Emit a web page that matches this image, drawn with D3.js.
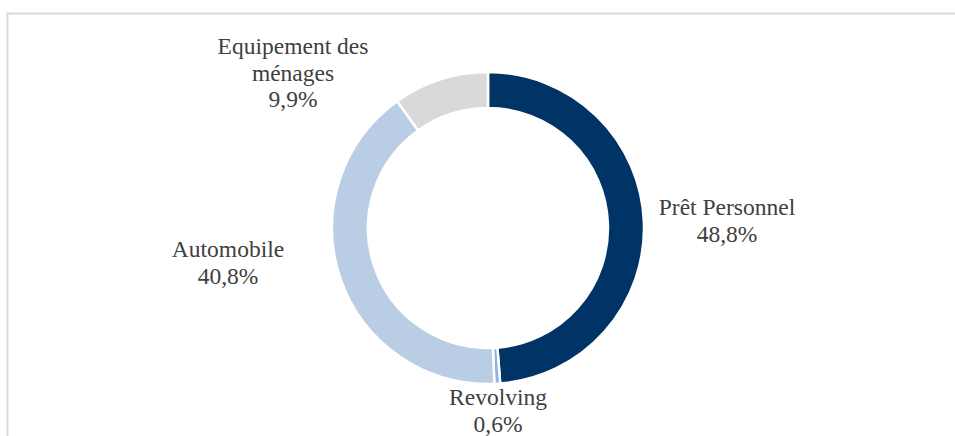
<!DOCTYPE html>
<meta charset='utf-8'>
<style>
  body { margin: 0; background: #fff; }
  svg text { font-family: 'Liberation Serif', 'Times New Roman', serif; font-size: 23.5px; fill: #404040; }
</style>
<body>
<script src='https://cdn.jsdelivr.net/npm/d3@7'></script>
<script>
  const categories = ['Prêt Personnel', 'Revolving', 'Automobile', 'Equipement des ménages']
  const values = [48.8, 0.6, 40.8, 9.9]
  const labels = ['48,8%', '0,6%', '40,8%', '9,9%']
  const colors = ['#003366', '#8eb4e3', '#b9cde5', '#d9d9d9']

  // label lines and anchor points, per slice
  const labelLines = [['Prêt Personnel'], ['Revolving'], ['Automobile'], ['Equipement des', 'ménages']]
  const labelPos = [[727, 215], [498, 405], [228, 257], [293, 54]]

  const width = 955
  const height = 436
  const cx = 488, cy = 228
  const outerR = 156, innerR = 120

  const svg = d3.select('body').append('svg')
    .attr('width', width)
    .attr('height', height)

  // chart area border (clipped by the window on the right and bottom)
  svg.append('rect')
    .attr('x', 7.5).attr('y', 13.5)
    .attr('width', 1000).attr('height', 500)
    .attr('fill', 'none')
    .attr('stroke', '#d9d9d9')
    .attr('stroke-width', 2)

  const data = categories.map((c, i) => ({ name: c, value: values[i], label: labels[i], i }))

  const pie = d3.pie().value(d => d.value).sort(null)
  const arc = d3.arc().innerRadius(innerR).outerRadius(outerR)

  const g = svg.append('g').attr('transform', `translate(${cx}, ${cy})`)

  g.selectAll('path')
    .data(pie(data))
    .enter().append('path')
    .attr('d', arc)
    .attr('fill', d => colors[d.data.i])
    .attr('stroke', '#fff')
    .attr('stroke-width', 2.5)

  data.forEach((d, i) => {
    const lines = labelLines[i].concat([d.label])
    const t = svg.append('text')
      .attr('text-anchor', 'middle')
      .attr('x', labelPos[i][0])
      .attr('y', labelPos[i][1])
    lines.forEach((l, k) => {
      t.append('tspan')
        .attr('x', labelPos[i][0])
        .attr('dy', k === 0 ? 0 : 26.5)
        .text(l)
    })
  })
</script>
</body>
